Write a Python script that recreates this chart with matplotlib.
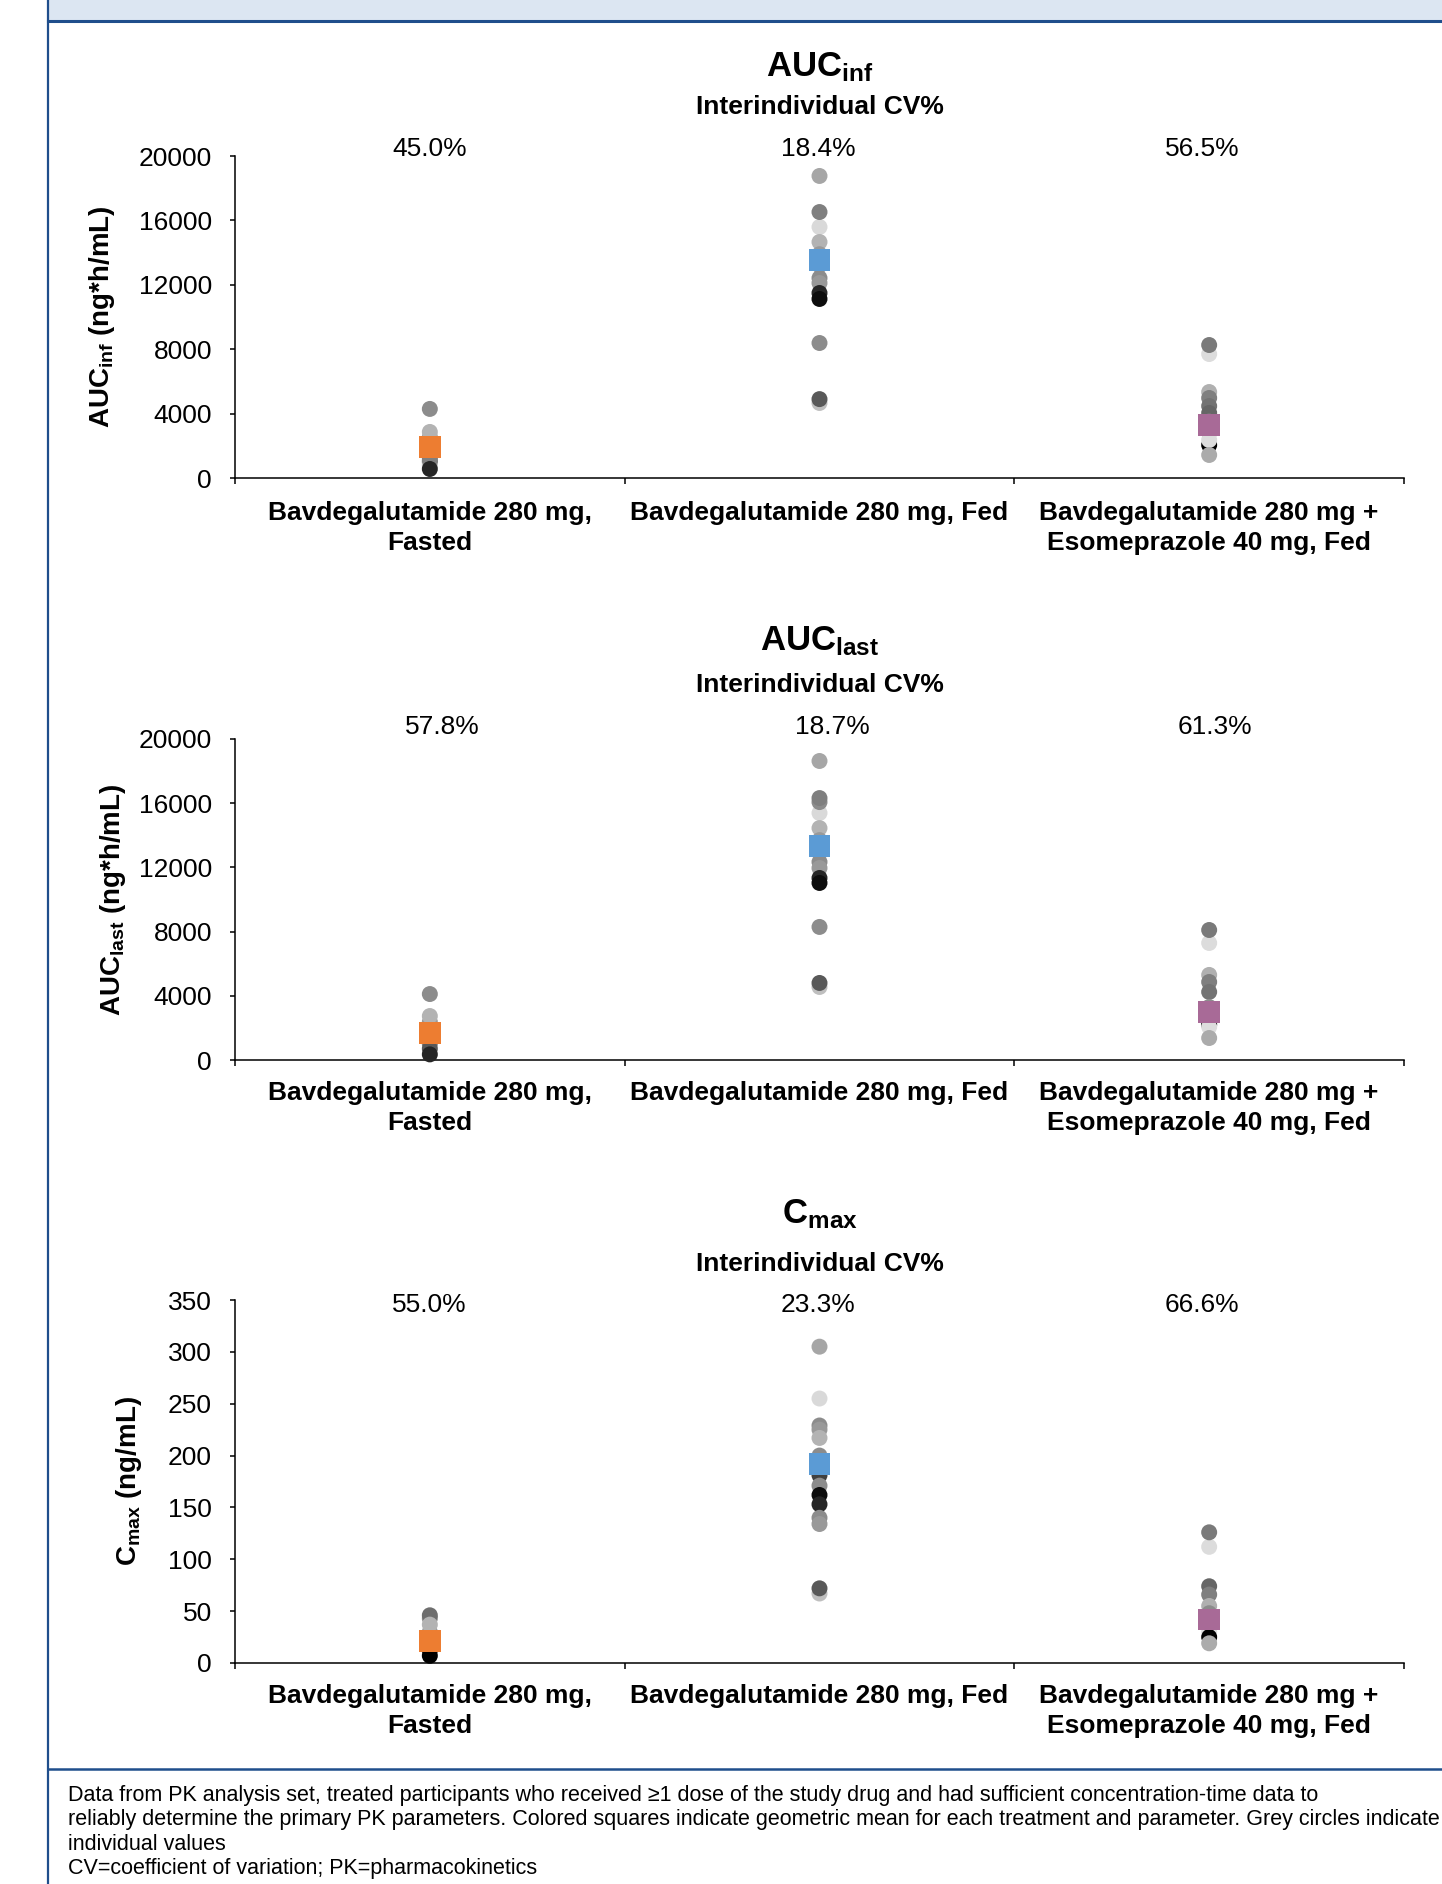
import numpy as np
import matplotlib.pyplot as plt
from matplotlib.lines import Line2D
from matplotlib.patches import Rectangle

plt.rcParams['font.family'] = ['Liberation Sans', 'DejaVu Sans']
plt.rcParams['mathtext.fontset'] = 'custom'
plt.rcParams['mathtext.rm'] = 'Liberation Sans'
plt.rcParams['mathtext.bf'] = 'Liberation Sans:bold'
plt.rcParams['mathtext.it'] = 'Liberation Sans:italic'

# ---- data ----
treatments = [["Bavdegalutamide 280 mg,", "Fasted"],
              ["Bavdegalutamide 280 mg, Fed"],
              ["Bavdegalutamide 280 mg +", "Esomeprazole 40 mg, Fed"]]
mean_colors = ['#ED7D31', '#5B9BD5', '#A86A97']

# AUCinf
aucinf_fasted = [2100, 1700, 1300, 1000, 800, 2550, 2860, 4290, 1120, 560]
aucinf_fasted_c = ['#999999', '#8c8c8c', '#7f7f7f', '#595959', '#bfbfbf', '#a0a0a0', '#b3b3b3', '#8c8c8c', '#7f7f7f', '#262626']
aucinf_fed = [18760, 15590, 16520, 14660, 13900, 13200, 12420, 12110, 11490, 11120, 8385, 4660, 4900]
aucinf_fed_c = ['#a6a6a6', '#d9d9d9', '#7f7f7f', '#b3b3b3', '#999999', '#8c8c8c', '#8c8c8c', '#999999', '#262626', '#0d0d0d', '#8c8c8c', '#bfbfbf', '#595959']
aucinf_eso = [7700, 8260, 5340, 4970, 4470, 4040, 3500, 2800, 2050, 2360, 1430]
aucinf_eso_c = ['#dcdcdc', '#7a7a7a', '#b0b0b0', '#7f7f7f', '#737373', '#666666', '#8c8c8c', '#999999', '#000000', '#dddddd', '#ababab']
aucinf_means = [1930, 13540, 3290]
aucinf_cv = ['45.0%', '18.4%', '56.5%']

# AUClast
auclast_fasted = [1900, 1400, 1000, 700, 2370, 2740, 4110, 350]
auclast_fasted_c = ['#999999', '#8c8c8c', '#7f7f7f', '#595959', '#999999', '#b3b3b3', '#8c8c8c', '#262626']
auclast_fed = [18630, 15390, 16070, 16320, 14450, 13700, 13000, 12340, 11960, 11340, 11030, 8290, 4550, 4800]
auclast_fed_c = ['#a6a6a6', '#d9d9d9', '#8c8c8c', '#7f7f7f', '#b3b3b3', '#999999', '#8c8c8c', '#8c8c8c', '#999999', '#262626', '#0d0d0d', '#8c8c8c', '#bfbfbf', '#595959']
auclast_eso = [7290, 8100, 5300, 4860, 4240, 3300, 2700, 2200, 2060, 1370]
auclast_eso_c = ['#dcdcdc', '#7a7a7a', '#b0b0b0', '#7f7f7f', '#737373', '#8c8c8c', '#999999', '#000000', '#dddddd', '#ababab']
auclast_means = [1680, 13330, 2990]
auclast_cv = ['57.8%', '18.7%', '61.3%']

# Cmax
cmax_fasted = [30, 25, 15, 43, 46, 37, 12, 7]
cmax_fasted_c = ['#999999', '#8c8c8c', '#7f7f7f', '#8c8c8c', '#6e6e6e', '#b3b3b3', '#262626', '#000000']
cmax_fed = [305, 255, 229, 225, 217, 200, 181, 171, 162, 153, 140, 134, 67, 72]
cmax_fed_c = ['#a6a6a6', '#d9d9d9', '#8c8c8c', '#999999', '#b3b3b3', '#8c8c8c', '#404040', '#8c8c8c', '#0d0d0d', '#262626', '#8c8c8c', '#999999', '#bfbfbf', '#595959']
cmax_eso = [112, 126, 74, 66, 55, 48, 35, 30, 25, 19]
cmax_eso_c = ['#dcdcdc', '#7a7a7a', '#666666', '#7f7f7f', '#b0b0b0', '#8c8c8c', '#999999', '#dddddd', '#000000', '#ababab']
cmax_means = [21, 192, 42]
cmax_cv = ['55.0%', '23.3%', '66.6%']

W, H = 1442, 1884
fig = plt.figure(figsize=(W / 100, H / 100), dpi=100)

def fx(px):
    return px / W

def fy(py):
    return 1 - py / H

# frame decoration
navy = '#1F4E8C'
fig.add_artist(Rectangle((fx(48), fy(21)), 1 - fx(48), 21 / H, transform=fig.transFigure,
                         facecolor='#DCE6F2', edgecolor='none'))
fig.add_artist(Line2D([fx(48), 1], [fy(21), fy(21)], color=navy, lw=2.2, transform=fig.transFigure))
fig.add_artist(Line2D([fx(48), fx(48)], [0, 1], color=navy, lw=1.6, transform=fig.transFigure))
fig.add_artist(Line2D([fx(48), 1], [fy(1769), fy(1769)], color=navy, lw=1.8, transform=fig.transFigure))

panels = [
    dict(top=156, bottom=478, ymax=20000, yticks=np.arange(0, 20001, 4000),
         title=r'$\mathbf{AUC_{inf}}$', title_y=76, sub_y=114,
         ylabel=r'$\mathbf{AUC_{inf}}$ (ng*h/mL)', ylabel_x=102,
         groups=[(aucinf_fasted, aucinf_fasted_c), (aucinf_fed, aucinf_fed_c), (aucinf_eso, aucinf_eso_c)],
         means=aucinf_means, cv=aucinf_cv, cv_x=[430, 818, 1202], cv_y=156, lab_y=520),
    dict(top=739, bottom=1060, ymax=20000, yticks=np.arange(0, 20001, 4000),
         title=r'$\mathbf{AUC_{last}}$', title_y=650, sub_y=692,
         ylabel=r'$\mathbf{AUC_{last}}$ (ng*h/mL)', ylabel_x=113,
         groups=[(auclast_fasted, auclast_fasted_c), (auclast_fed, auclast_fed_c), (auclast_eso, auclast_eso_c)],
         means=auclast_means, cv=auclast_cv, cv_x=[442, 832, 1215], cv_y=734, lab_y=1100),
    dict(top=1300, bottom=1663, ymax=350, yticks=np.arange(0, 351, 50),
         title=r'$\mathbf{C_{max}}$', title_y=1223, sub_y=1271,
         ylabel=r'$\mathbf{C_{max}}$ (ng/mL)', ylabel_x=129,
         groups=[(cmax_fasted, cmax_fasted_c), (cmax_fed, cmax_fed_c), (cmax_eso, cmax_eso_c)],
         means=cmax_means, cv=cmax_cv, cv_x=[429, 818, 1202], cv_y=1312, lab_y=1703),
]

ax_left, ax_right = 235, 1404
for p in panels:
    ax = fig.add_axes([fx(ax_left), fy(p['bottom']), (ax_right - ax_left) / W,
                       (p['bottom'] - p['top']) / H])
    for i, (vals, cols) in enumerate(p['groups']):
        ax.scatter(np.full(len(vals), i + 0.5), vals, s=11.5 ** 2, c=cols,
                   edgecolors='none', zorder=3, clip_on=False)
        ax.scatter([i + 0.5], [p['means'][i]], marker='s', s=15.5 ** 2, c=mean_colors[i],
                   edgecolors='none', zorder=4, clip_on=False)
    ax.set_xlim(0, 3)
    ax.set_ylim(0, p['ymax'])
    ax.set_yticks(p['yticks'])
    ax.set_xticks([0, 1, 2, 3])
    ax.set_xticklabels([])
    for s in ['top', 'right']:
        ax.spines[s].set_visible(False)
    for s in ['left', 'bottom']:
        ax.spines[s].set_linewidth(1.1)
        ax.spines[s].set_color('black')
    ax.tick_params(axis='y', direction='out', length=3.6, width=1.1, pad=13, labelsize=19)
    ax.tick_params(axis='x', direction='out', length=4.3, width=1.1)

    # titles
    cx = fx((ax_left + ax_right) / 2)
    fig.text(cx, fy(p['title_y']), p['title'], fontsize=25, ha='center', va='baseline')
    fig.text(cx, fy(p['sub_y']), 'Interindividual CV%', fontsize=19, fontweight='bold',
             ha='center', va='baseline')
    for x, t in zip(p['cv_x'], p['cv']):
        fig.text(fx(x), fy(p['cv_y']), t, fontsize=19, ha='center', va='baseline')

    # category labels
    for i, lines in enumerate(treatments):
        x = fx(ax_left + (i + 0.5) * (ax_right - ax_left) / 3)
        for k, line in enumerate(lines):
            fig.text(x, fy(p['lab_y'] + 30 * k), line, fontsize=19, fontweight='bold',
                     ha='center', va='baseline')

    # y label
    fig.text(fx(p['ylabel_x']), fy((p['top'] + p['bottom']) / 2), p['ylabel'], fontsize=20,
             fontweight='bold', rotation=90, ha='center', va='center')

footer = ["Data from PK analysis set, treated participants who received \u22651 dose of the study drug and had sufficient concentration-time data to",
          "reliably determine the primary PK parameters. Colored squares indicate geometric mean for each treatment and parameter. Grey circles indicate",
          "individual values",
          "CV=coefficient of variation; PK=pharmacokinetics"]
for k, line in enumerate(footer):
    fig.text(fx(68), fy(1801 + 24.3 * k), line, fontsize=15.5, ha='left', va='baseline')

fig.savefig('out.png', dpi=100)
